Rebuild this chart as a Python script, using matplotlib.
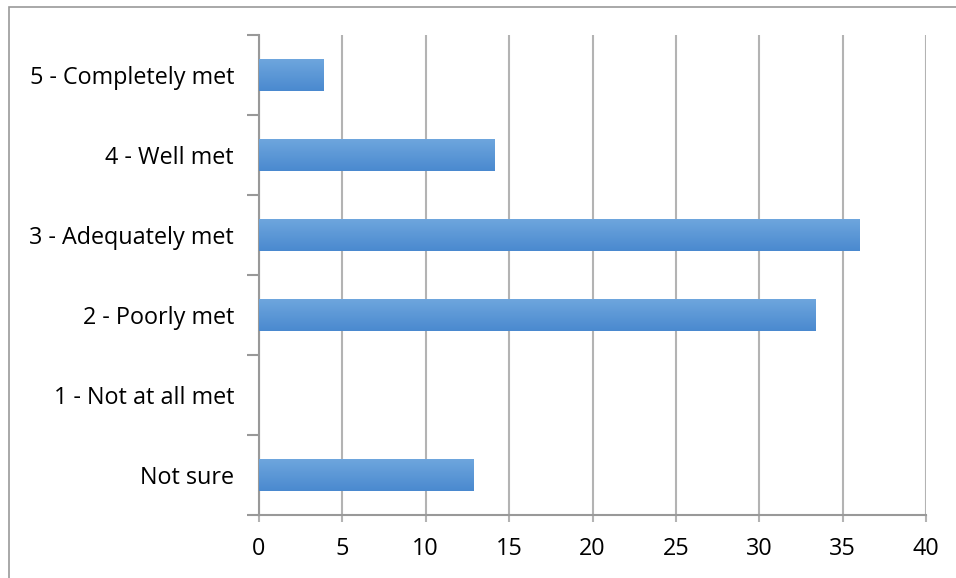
import matplotlib
matplotlib.use("Agg")
import matplotlib.pyplot as plt
import numpy as np
from matplotlib.colors import LinearSegmentedColormap
from matplotlib.patches import Rectangle

categories = ["Not sure", "1 - Not at all met", "2 - Poorly met",
              "3 - Adequately met", "4 - Well met", "5 - Completely met"]
values = [12.85, 0, 33.4, 36.0, 14.15, 3.85]
xticks = [0, 5, 10, 15, 20, 25, 30, 35, 40]

plt.rcParams['font.family'] = ['Open Sans', 'DejaVu Sans']

fig = plt.figure(figsize=(9.56, 5.78), dpi=100)
ax = fig.add_axes([259/956, 1-515/578, (926-259)/956, (515-35)/578])

y = np.arange(len(categories))
bars = ax.barh(y, values, height=0.41, color='#5b9bd5', zorder=3)

cmap = LinearSegmentedColormap.from_list('g', ['#4a89cf', '#6fa7de'])
grad = np.linspace(0, 1, 256).reshape(-1, 1)
for b in bars:
    x0, y0 = b.get_x(), b.get_y()
    w, h = b.get_width(), b.get_height()
    if w <= 0:
        continue
    im = ax.imshow(grad, cmap=cmap, aspect='auto', origin='lower',
                   extent=[x0, x0 + w, y0, y0 + h], zorder=4)
    im.set_clip_path(b)

ax.set_xlim(0, 40)
ax.set_ylim(-0.5, len(categories) - 0.5)
ax.set_xticks(xticks)
ax.set_xticklabels([str(t) for t in xticks])
ax.set_yticks(y)
ax.set_yticklabels(categories)
ax.set_yticks(np.arange(-0.5, len(categories), 1.0), minor=True)

ax.grid(axis='x', color='#b3b3b3', linewidth=1.5, zorder=0)
ax.tick_params(axis='y', which='major', length=0, pad=18, labelsize=16.8)
ax.tick_params(axis='y', which='minor', length=9, width=1.5, color='#999999')
ax.tick_params(axis='x', which='major', length=5, width=1.5, color='#b3b3b3',
               labelsize=16.8, pad=10.5)

for s in ['top', 'right']:
    ax.spines[s].set_visible(False)
for s in ['left', 'bottom']:
    ax.spines[s].set_color('#999999')
    ax.spines[s].set_linewidth(1.5)

# outer chart border
fig.add_artist(Rectangle((8.5/956, -0.1), 1.2, 1 - 6.5/578 + 0.1,
                         transform=fig.transFigure, fill=False,
                         edgecolor='#999999', linewidth=1.2))

fig.savefig('out.png', dpi=100)
